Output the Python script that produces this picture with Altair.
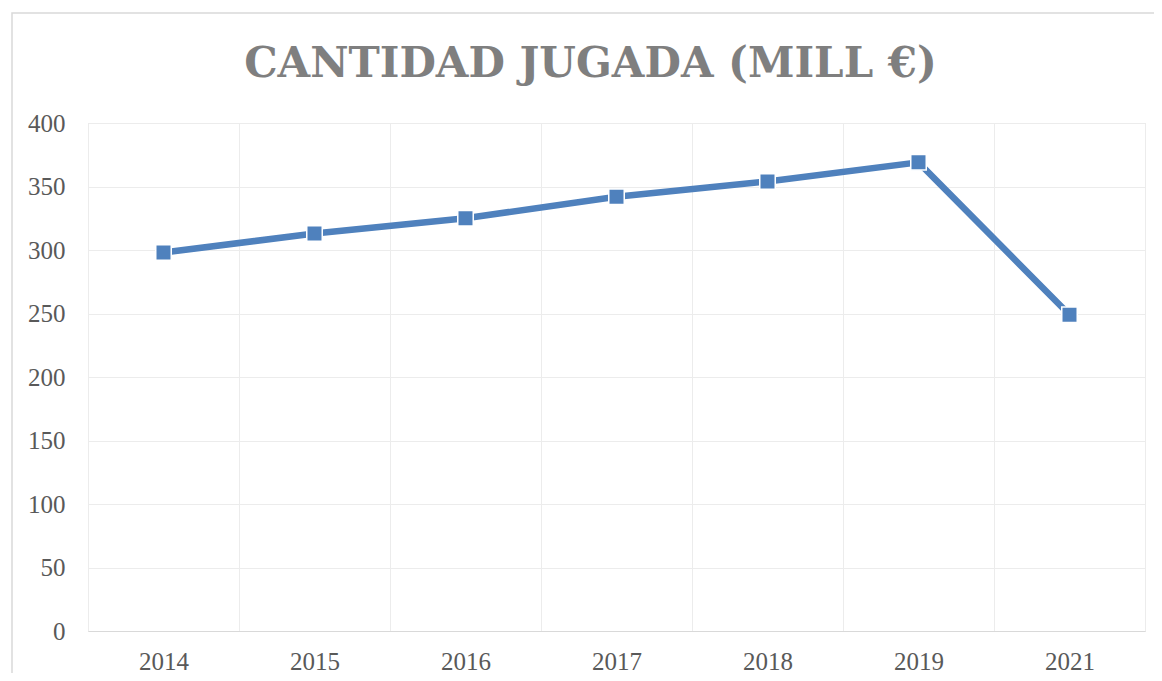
import altair as alt
import pandas as pd

years = ["2014", "2015", "2016", "2017", "2018", "2019", "2021"]
values = [298, 313, 325, 342, 354, 369, 249]

df = pd.DataFrame({"year": years, "value": values})

LINE = "#4f81bd"
GRID = "#ececec"
LABEL = "#595959"
FONT = "Liberation Serif"

x_enc = alt.X(
    "year:O",
    sort=years,
    bandPosition=0.5,
    scale=alt.Scale(type="band", paddingInner=0, paddingOuter=0),
    axis=alt.Axis(
        title=None,
        tickBand="extent",
        ticks=False,
        grid=True,
        gridColor=GRID,
        domainColor="#d9d9d9",
        labelAngle=0,
        labelFont=FONT,
        labelFontSize=25,
        labelColor=LABEL,
        labelPadding=18,
    ),
)
y_enc = alt.Y(
    "value:Q",
    scale=alt.Scale(domain=[0, 400], nice=False),
    axis=alt.Axis(
        title=None,
        values=[0, 50, 100, 150, 200, 250, 300, 350, 400],
        ticks=False,
        domain=False,
        grid=True,
        gridColor=GRID,
        labelFont=FONT,
        labelFontSize=25,
        labelColor=LABEL,
        labelPadding=23,
    ),
)

base = alt.Chart(df)
line = base.mark_line(color=LINE, strokeWidth=6.5).encode(x=x_enc, y=y_enc)
pts = base.mark_point(
    shape="square", filled=True, fill=LINE, size=240, stroke="white", strokeWidth=1.5, opacity=1
).encode(x=x_enc, y=y_enc)

border = alt.Chart(pd.DataFrame({"a": [0]})).mark_rect(
    filled=False, stroke="#d9d9d9", strokeWidth=1.5, clip=False
).encode(
    x=alt.value(-76), x2=alt.value(1120), y=alt.value(-110), y2=alt.value(620)
)

chart = (
    alt.layer(border, line, pts)
    .properties(
        width=1057,
        height=508,
        autosize=alt.AutoSizeParams(type="none"),
        padding={"left": 80, "top": 115, "right": 9, "bottom": 42},
        title=alt.TitleParams(
            "CANTIDAD JUGADA (MILL €)",
            font="DejaVu Serif",
            fontSize=42,
            fontWeight="bold",
            color="#7f7f7f",
            anchor="middle",
            frame="group",
            baseline="alphabetic",
            offset=-107,
            dx=-26,
        ),
    )
    .configure_view(strokeWidth=0)
    .configure(background="white")
)

chart.save("out.html", embed_options={"renderer": "svg", "actions": False})
